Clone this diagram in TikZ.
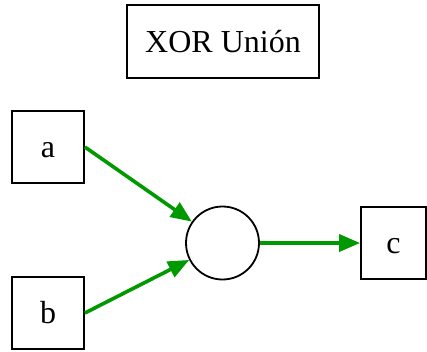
\documentclass[tikz,border=0pt]{standalone}
\usepackage{fontspec}
\setmainfont{Liberation Serif}
\usetikzlibrary{arrows.meta}
\definecolor{arrgreen}{RGB}{0,153,0}
\begin{document}
\begin{tikzpicture}[x=1pt,y=-1pt,
  boxnode/.style={draw=black,line width=1.8pt,minimum width=72pt,minimum height=72pt,inner sep=0pt,text height=23pt,text depth=2pt,font=\fontsize{32}{38}\selectfont},
  joinnode/.style={draw=black,line width=1.8pt,circle,minimum size=73pt,inner sep=0pt},
  flow/.style={draw=arrgreen,line width=3.6pt,-{Triangle[length=21pt,width=17pt]}}]
\useasboundingbox (0,0) rectangle (427,351);
\node[boxnode,minimum width=192pt,minimum height=73pt] (title) at (223,41.5) {XOR Unión};
\node[boxnode] (a) at (48,147) {a};
\node[boxnode] (b) at (48,313) {b};
\node[boxnode,minimum width=65pt] (c) at (393.5,243) {c};
\node[joinnode] (j) at (222.5,243) {};
\draw[flow] (a.east) -- (j);
\draw[flow] (b.east) -- (j);
\draw[flow] (j.east) -- (c.west);
\end{tikzpicture}
\end{document}
